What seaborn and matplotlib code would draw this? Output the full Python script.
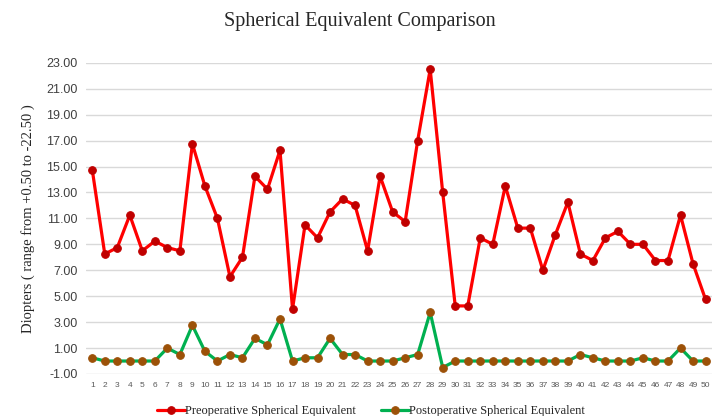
import pandas as pd
import numpy as np
import seaborn as sns
import matplotlib as mpl
import matplotlib.pyplot as plt

# 환자 번호 1~50
patients = list(range(1, 51))
preop = [14.75, 8.25, 8.75, 11.25, 8.5, 9.25, 8.75, 8.5, 16.75, 13.5,
         11.0, 6.5, 8.0, 14.25, 13.25, 16.25, 4.0, 10.5, 9.5, 11.5,
         12.5, 12.0, 8.5, 14.25, 11.5, 10.75, 17.0, 22.5, 13.0, 4.25,
         4.25, 9.5, 9.0, 13.5, 10.25, 10.25, 7.0, 9.75, 12.25, 8.25,
         7.75, 9.5, 10.0, 9.0, 9.0, 7.75, 7.75, 11.25, 7.5, 4.75]
postop = [0.25, 0, 0, 0, 0, 0, 1.0, 0.5, 2.75, 0.75,
          0, 0.5, 0.25, 1.75, 1.25, 3.25, 0, 0.25, 0.25, 1.75,
          0.5, 0.5, 0, 0, 0, 0.25, 0.5, 3.75, -0.5, 0,
          0, 0, 0, 0, 0, 0, 0, 0, 0, 0.5,
          0.25, 0, 0, 0, 0.25, 0, 0, 1.0, 0, 0]
yticks = np.arange(-1, 24, 2)

df = pd.DataFrame({"patient": patients, "pre": preop, "post": postop})

sns.set_style("white")
serif = ["Liberation Serif", "DejaVu Serif"]

fig = plt.figure(figsize=(7.19, 4.16), dpi=100)
ax = fig.add_axes([0.1196, 0.101, 0.8704, 0.748])

sns.lineplot(data=df, x="patient", y="pre", ax=ax, color="#FF0000", linewidth=2.3,
             marker="o", markersize=5.5, markerfacecolor="#C00000", markeredgecolor="#C00000",
             label="Preoperative Spherical Equivalent", zorder=3)
sns.lineplot(data=df, x="patient", y="post", ax=ax, color="#00B050", linewidth=2.3,
             marker="o", markersize=5.5, markerfacecolor="#9C5108", markeredgecolor="#9C5108",
             label="Postoperative Spherical Equivalent", zorder=3)

ax.set_xlim(0.5, 50.5)
ax.set_ylim(-1, 23)
ax.set_yticks(yticks)
ax.set_yticklabels([f"{v:.2f}" for v in yticks], fontsize=9, color="#404040",
                   family=["Liberation Sans", "DejaVu Sans"])
ax.set_xticks(patients)
ax.set_xticklabels([str(p) for p in patients], fontsize=6, color="#595959",
                   family=["Liberation Sans", "DejaVu Sans"])
ax.tick_params(length=0, pad=6)
ax.grid(axis="y", color="#D9D9D9", linewidth=1)
ax.set_axisbelow(True)
for s in ax.spines.values():
    s.set_visible(False)

ax.set_xlabel("")
ax.set_ylabel("Diopters ( range from +0.50 to -22.50 )", family=serif, fontsize=10.5, labelpad=8)
fig.suptitle("Spherical Equivalent Comparison", family=serif, fontsize=14.5, y=0.972)

ax.get_legend().remove()
h, l = ax.get_legend_handles_labels()
fig.legend(h, l, loc="lower center", ncol=2, frameon=False, prop={"family": serif, "size": 9},
           bbox_to_anchor=(0.516, -0.03), columnspacing=2.0, handlelength=2.2, handletextpad=0.05)

fig.savefig("out.png", dpi=100)
